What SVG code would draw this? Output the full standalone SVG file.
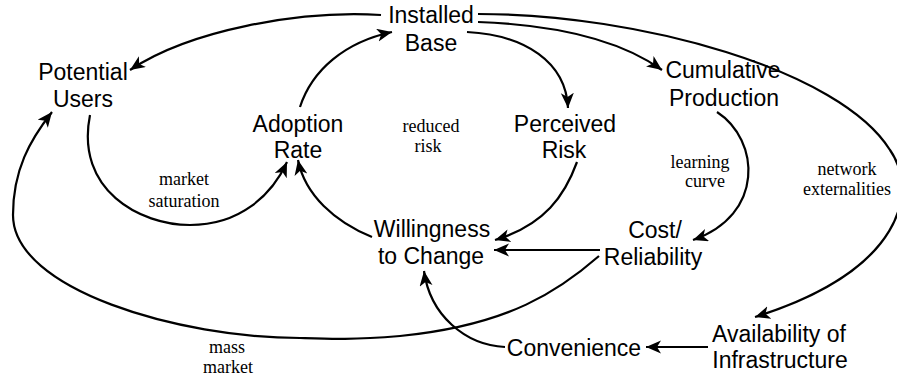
<svg xmlns="http://www.w3.org/2000/svg" width="897" height="383" viewBox="0 0 897 383">
<style>
.n{font-family:"Liberation Sans",Arial,sans-serif;font-size:23px;fill:#000;text-anchor:middle}
.l{font-family:"Liberation Serif","Times New Roman",serif;font-size:18px;fill:#000;text-anchor:middle}
.c{fill:none;stroke:#000;stroke-width:2.2}
</style>
<defs>
<marker id="ah" markerUnits="userSpaceOnUse" markerWidth="18" markerHeight="14" refX="15" refY="6.5" orient="auto">
<path d="M0,0 L15,6.5 L0,13 L4,6.5 z" fill="#000"/>
</marker>
</defs>
<rect width="897" height="383" fill="#fff"/>
<g id="connectors">
<path class="c" marker-end="url(#ah)" d="M381,15 C300,10 190,30 130,70"/>
<path class="c" marker-end="url(#ah)" d="M300,107 C312,70 345,42 392,32"/>
<path class="c" marker-end="url(#ah)" d="M467,32 C525,35 566,62 568,108"/>
<path class="c" marker-end="url(#ah)" d="M478,22 C560,25 620,40 662,70"/>
<path class="c" marker-end="url(#ah)" d="M478,14 C640,14 840,70 890,150 C918,190 905,270 755,317"/>
<path class="c" marker-end="url(#ah)" d="M717,112 C760,140 765,215 693,240"/>
<path class="c" marker-end="url(#ah)" d="M577,162 C565,195 545,225 495,240"/>
<path class="c" marker-end="url(#ah)" d="M372,237 C335,222 305,195 298,160"/>
<path class="c" marker-end="url(#ah)" d="M90,115 C75,190 140,225 190,225 C240,225 272,195 287,162"/>
<path class="c" marker-end="url(#ah)" d="M600,250 L494,250"/>
<path class="c" marker-end="url(#ah)" d="M708,347 L646,347"/>
<path class="c" marker-end="url(#ah)" d="M505,347 C465,345 430,315 424,271"/>
<path class="c" marker-end="url(#ah)" d="M599,256 C560,290 510,325 400,336 C350,340 330,339 300,338 C180,338 13,290 13,215 C13,170 30,140 52,112"/>
</g>
<g id="installed-base"><text class="n" x="431" y="23">Installed</text><text class="n" x="431" y="51">Base</text></g>
<g id="potential-users"><text class="n" x="83" y="80">Potential</text><text class="n" x="83" y="107">Users</text></g>
<g id="adoption-rate"><text class="n" x="298" y="132">Adoption</text><text class="n" x="298" y="158">Rate</text></g>
<g id="perceived-risk"><text class="n" x="565" y="132">Perceived</text><text class="n" x="564" y="158">Risk</text></g>
<g id="cumulative-production"><text class="n" x="723" y="78">Cumulative</text><text class="n" x="724" y="106">Production</text></g>
<g id="willingness"><text class="n" x="432" y="237">Willingness</text><text class="n" x="431" y="264">to Change</text></g>
<g id="cost-reliability"><text class="n" x="655" y="238">Cost/</text><text class="n" x="653" y="265">Reliability</text></g>
<g id="convenience"><text class="n" x="574" y="356">Convenience</text></g>
<g id="availability"><text class="n" x="779" y="342">Availability of</text><text class="n" x="780" y="368">Infrastructure</text></g>
<g id="labels">
<text class="l" x="431" y="132">reduced</text><text class="l" x="428" y="152">risk</text>
<text class="l" x="184" y="185">market</text><text class="l" x="184" y="207">saturation</text>
<text class="l" x="700" y="168">learning</text><text class="l" x="705" y="187">curve</text>
<text class="l" x="847" y="175">network</text><text class="l" x="847" y="195">externalities</text>
<text class="l" x="227" y="353">mass</text><text class="l" x="228" y="373">market</text>
</g>
</svg>
